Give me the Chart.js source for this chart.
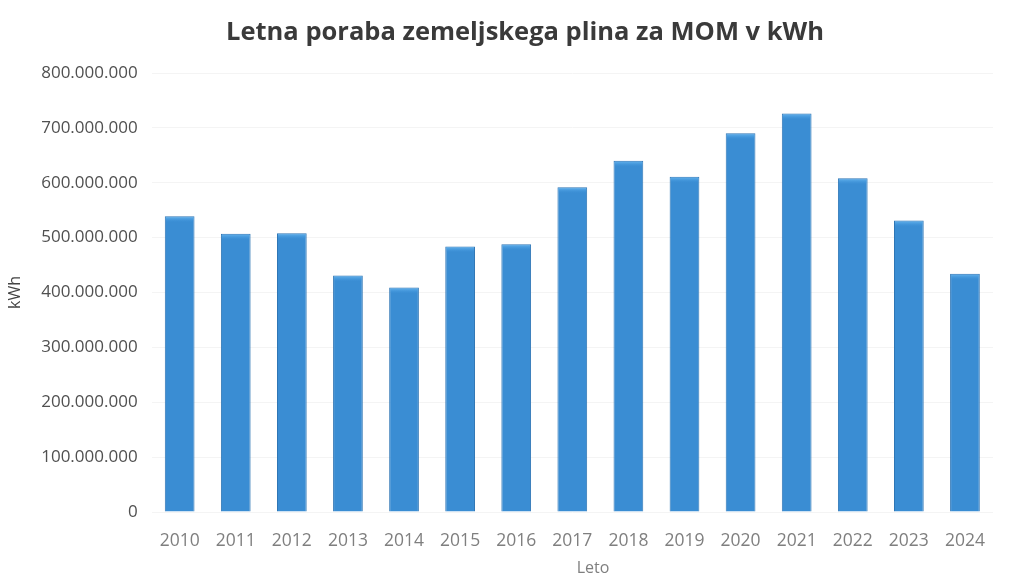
<!DOCTYPE html>
<html>
<head>
<meta charset="utf-8">
<script src="https://cdn.jsdelivr.net/npm/chart.js@4.4.1/dist/chart.umd.min.js"></script>
<style>
html,body{margin:0;padding:0;background:#fff;}
#wrap{width:1024px;height:575px;position:relative;}
#title{position:absolute;left:175px;width:700px;top:14px;text-align:center;font-family:'Open Sans',sans-serif;font-weight:bold;font-size:25.5px;line-height:32px;color:#3a3a3a;}
#xtitle{position:absolute;left:543px;width:100px;top:556px;text-align:center;font-family:'Open Sans',sans-serif;font-size:16px;line-height:22px;color:#7f7f7f;}
</style>
</head>
<body>
<div id="wrap"><canvas id="c" width="1024" height="575"></canvas><div id="title"></div><div id="xtitle"></div></div>
<script>
const years = ["2010","2011","2012","2013","2014","2015","2016","2017","2018","2019","2020","2021","2022","2023","2024"];
const consumption = [539000000,507000000,508000000,431000000,409000000,484000000,488000000,592000000,640000000,611000000,690000000,726000000,608000000,531000000,434000000];
const yTickStep = 100000000;
const yMax = 800000000;
const titleText = "Letna poraba zemeljskega plina za MOM v kWh";
const yTitle = "kWh";
const xTitle = "Leto";

document.getElementById('title').textContent = titleText;
document.getElementById('xtitle').textContent = xTitle;

function fmt(v){
  return String(Math.round(v)).replace(/\B(?=(\d{3})+(?!\d))/g, ".");
}

const ctx = document.getElementById('c').getContext('2d');
function barFill(context){
  const chart = context.chart;
  const el = context.element;
  if(!el || el.x === undefined) return '#3a8dd3';
  const w = el.width || 30;
  const g = chart.ctx.createLinearGradient(el.x - w/2, 0, el.x + w/2, 0);
  g.addColorStop(0, '#3584c8');
  g.addColorStop(0.5, '#4197de');
  g.addColorStop(1, '#3182c6');
  return g;
}

const capPlugin = {
  id: 'cap',
  afterDatasetsDraw(chart){
    const c = chart.ctx;
    chart.getDatasetMeta(0).data.forEach(el => {
      const w = el.width;
      const g = c.createLinearGradient(0, el.y, 0, el.y + 6);
      g.addColorStop(0, '#6ab8f0');
      g.addColorStop(1, 'rgba(65,151,222,0)');
      c.save();
      c.fillStyle = g;
      c.fillRect(el.x - w/2 + 1, el.y + 1, w - 2, 6);
      c.restore();
    });
  }
};

new Chart(ctx, {
  type: 'bar',
  data: {
    labels: years,
    datasets: [{
      data: consumption,
      backgroundColor: barFill,
      borderColor: '#2f76b5',
      borderWidth: 1,
      categoryPercentage: 1.0,
      barPercentage: 0.53
    }]
  },
  plugins: [capPlugin],
  options: {
    responsive: false,
    animation: false,
    layout: { padding: { left: 6, right: 31, top: 73, bottom: 12 } },
    plugins: {
      legend: { display: false },
      tooltip: { enabled: false },
      title: { display: false }
    },
    scales: {
      x: {
        grid: { display: false },
        border: { display: false },
        ticks: { color: '#7f7f7f', font: { family: 'Open Sans', size: 17.5 }, padding: 11 },
        title: { display: false }
      },
      y: {
        min: 0,
        max: yMax,
        grid: { color: '#f4f4f4', drawTicks: false },
        border: { display: false },
        ticks: {
          stepSize: yTickStep,
          color: '#505050',
          font: { family: 'Open Sans', size: 17 },
          padding: 14,
          callback: v => fmt(v)
        },
        title: { display: true, text: yTitle, color: '#444444', font: { family: 'Open Sans', size: 16 }, padding: { top: 0, bottom: 2 } }
      }
    }
  }
});
</script>
</body>
</html>
